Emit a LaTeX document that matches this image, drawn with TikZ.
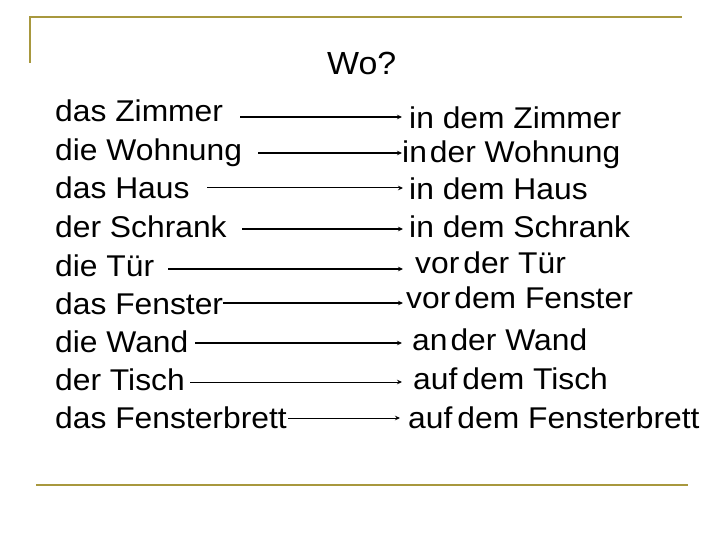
\documentclass[tikz,border=0pt]{standalone}
\usepackage{fontspec}
\setmainfont{Liberation Sans}
\newfontfamily\bodyfont[FakeStretch=1.06]{Liberation Sans}
\newfontfamily\titlefont[FakeStretch=1.06]{Liberation Sans}
\usetikzlibrary{arrows.meta}
\definecolor{deco}{RGB}{168,152,62}
\begin{document}
\begin{tikzpicture}[x=1pt,y=-1pt,
  word/.style={anchor=base west,inner sep=0pt,font=\bodyfont\fontsize{30}{36}\selectfont},
  arr/.style={-{Stealth[length=5pt,width=4.5pt]},line width=1.5pt},
  arrthin/.style={-{Stealth[length=5pt,width=4.5pt]},line width=1pt},
  decoline/.style={draw=deco,line width=2pt}]
\useasboundingbox (0,0) rectangle (720,540);
% decorative frame lines
\draw[decoline] (30,63) -- (30,17) -- (682,17);
\draw[decoline,line width=2.5pt] (36,485) -- (688,485);
% title
\node[anchor=base west,inner sep=0pt,font=\titlefont\fontsize{32}{38}\selectfont] (title) at (327,75) {Wo?};
% left column
\node[word] (l1) at (55,122) {das Zimmer};
\node[word] (l2) at (55,161) {die Wohnung};
\node[word] (l3) at (55,199) {das Haus};
\node[word] (l4) at (55,237) {der Schrank};
\node[word] (l5) at (55,276) {die Tür};
\node[word] (l6) at (55,314) {das Fenster};
\node[word] (l7) at (55,352) {die Wand};
\node[word] (l8) at (55,390) {der Tisch};
\node[word] (l9) at (55,428) {das Fensterbrett};
% right column
\node[word] (r1) at (409,129) {in dem Zimmer};
\node[word] (r2) at (402,163) {in\hspace{3pt}der Wohnung};
\node[word] (r3) at (409,200) {in dem Haus};
\node[word] (r4) at (409,237) {in dem Schrank};
\node[word] (r5) at (415,273) {vor\hspace{4pt}der Tür};
\node[word] (r6) at (406,308) {vor\hspace{4pt}dem Fenster};
\node[word] (r7) at (412,350) {an\hspace{3pt}der Wand};
\node[word] (r8) at (413,389) {auf\hspace{5pt}dem Tisch};
\node[word] (r9) at (408,428) {auf\hspace{5pt}dem Fensterbrett};
% arrow end points
\coordinate (s1) at (240,117); \coordinate (e1) at (402,117);
\coordinate (s2) at (258,153); \coordinate (e2) at (402,153);
\coordinate (s3) at (207,188); \coordinate (e3) at (403,188);
\coordinate (s4) at (242,229); \coordinate (e4) at (403,229);
\coordinate (s5) at (168,269); \coordinate (e5) at (403,269);
\coordinate (s6) at (223,303); \coordinate (e6) at (403,303);
\coordinate (s7) at (195,343); \coordinate (e7) at (402,343);
\coordinate (s8) at (190,382); \coordinate (e8) at (402,382);
\coordinate (s9) at (288,418); \coordinate (e9) at (400,418);
\draw[arr] (s1) -- (e1);
\draw[arr] (s2) -- (e2);
\draw[arrthin] (s3) -- (e3);
\draw[arr] (s4) -- (e4);
\draw[arr] (s5) -- (e5);
\draw[arr] (s6) -- (e6);
\draw[arr] (s7) -- (e7);
\draw[arrthin] (s8) -- (e8);
\draw[arrthin] (s9) -- (e9);
\end{tikzpicture}
\end{document}
